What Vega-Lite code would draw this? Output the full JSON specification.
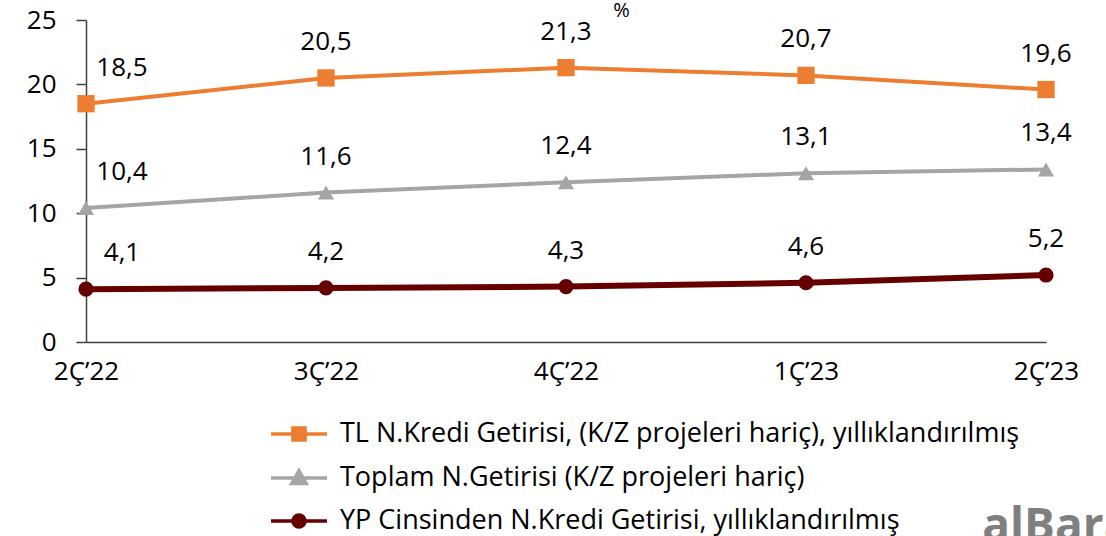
{
  "$schema": "https://vega.github.io/schema/vega-lite/v6.json",
  "width": 960,
  "height": 322,
  "autosize": "none",
  "padding": {"left": 86, "top": 20, "right": 60, "bottom": 194},
  "background": "white",
  "config": {
    "font": "Open Sans",
    "view": {"stroke": null},
    "locale": {"number": {"decimal": ",", "thousands": ".", "grouping": [3], "currency": ["", " TL"]}}
  },
  "title": {"text": "alBaraka", "orient": "bottom", "anchor": "start", "dx": 956, "offset": -29, "fontSize": 46, "color": "#7f7f7f", "fontWeight": "bold", "font": "Open Sans"},
  "data": {"values": [
    {"q": "2Ç’22", "series": "TL N.Kredi Getirisi, (K/Z projeleri hariç), yıllıklandırılmış", "v": 18.5},
    {"q": "3Ç’22", "series": "TL N.Kredi Getirisi, (K/Z projeleri hariç), yıllıklandırılmış", "v": 20.5},
    {"q": "4Ç’22", "series": "TL N.Kredi Getirisi, (K/Z projeleri hariç), yıllıklandırılmış", "v": 21.3},
    {"q": "1Ç’23", "series": "TL N.Kredi Getirisi, (K/Z projeleri hariç), yıllıklandırılmış", "v": 20.7},
    {"q": "2Ç’23", "series": "TL N.Kredi Getirisi, (K/Z projeleri hariç), yıllıklandırılmış", "v": 19.6},
    {"q": "2Ç’22", "series": "Toplam N.Getirisi (K/Z projeleri hariç)", "v": 10.4},
    {"q": "3Ç’22", "series": "Toplam N.Getirisi (K/Z projeleri hariç)", "v": 11.6},
    {"q": "4Ç’22", "series": "Toplam N.Getirisi (K/Z projeleri hariç)", "v": 12.4},
    {"q": "1Ç’23", "series": "Toplam N.Getirisi (K/Z projeleri hariç)", "v": 13.1},
    {"q": "2Ç’23", "series": "Toplam N.Getirisi (K/Z projeleri hariç)", "v": 13.4},
    {"q": "2Ç’22", "series": "YP Cinsinden N.Kredi Getirisi, yıllıklandırılmış", "v": 4.1},
    {"q": "3Ç’22", "series": "YP Cinsinden N.Kredi Getirisi, yıllıklandırılmış", "v": 4.2},
    {"q": "4Ç’22", "series": "YP Cinsinden N.Kredi Getirisi, yıllıklandırılmış", "v": 4.3},
    {"q": "1Ç’23", "series": "YP Cinsinden N.Kredi Getirisi, yıllıklandırılmış", "v": 4.6},
    {"q": "2Ç’23", "series": "YP Cinsinden N.Kredi Getirisi, yıllıklandırılmış", "v": 5.2}
  ]},
  "encoding": {
    "x": {"field": "q", "type": "ordinal", "sort": ["2Ç’22", "3Ç’22", "4Ç’22", "1Ç’23", "2Ç’23"],
      "scale": {"type": "point", "padding": 0},
      "axis": {"title": null, "labelAngle": 0, "labelFontSize": 26, "labelColor": "#000", "labelFont": "Open Sans", "ticks": false, "labelPadding": 16, "domainColor": "#404040", "domainWidth": 1.5, "grid": false}},
    "y": {"field": "v", "type": "quantitative",
      "scale": {"domain": [0, 25], "nice": false},
      "axis": {"values": [0, 5, 10, 15, 20, 25], "title": "%", "titleAngle": 0, "titleX": 535, "titleY": -10, "titleFontSize": 20, "titleFontWeight": "normal", "titleColor": "#000", "titleBaseline": "middle", "titleAlign": "center", "labelFontSize": 26, "labelColor": "#000", "labelFont": "Open Sans", "tickSize": 10, "tickColor": "#404040", "tickWidth": 1.5, "labelPadding": 20, "domainColor": "#404040", "domainWidth": 1.5, "grid": false}},
    "color": {"field": "series", "type": "nominal",
      "scale": {"domain": ["TL N.Kredi Getirisi, (K/Z projeleri hariç), yıllıklandırılmış", "Toplam N.Getirisi (K/Z projeleri hariç)", "YP Cinsinden N.Kredi Getirisi, yıllıklandırılmış"], "range": ["#ED7D31", "#A5A5A5", "#660000"]},
      "legend": {"title": null, "orient": "none", "legendX": 195, "legendY": 396, "direction": "vertical", "columns": 1,
        "padding": 0, "rowPadding": 12, "labelFontSize": 27, "labelFont": "Open Sans", "labelColor": "#000", "labelLimit": 0, "labelOffset": 23,
        "symbolSize": 1024,
        "encode": {"symbols": {"update": {
          "shape": {"signal": "datum.value == 'Toplam N.Getirisi (K/Z projeleri hariç)' ? 'M-1.75,0H1.75M0,-0.45L0.45,0.35H-0.45Z' : (datum.value == 'YP Cinsinden N.Kredi Getirisi, yıllıklandırılmış' ? 'M-1.75,0H1.75M-0.375,0A0.375,0.375 0 1,0 0.375,0A0.375,0.375 0 1,0 -0.375,0Z' : 'M-1.75,0H1.75M-0.38,-0.38H0.38V0.38H-0.38Z')"},
          "size": {"value": 1024},
          "strokeWidth": {"value": 3.5},
          "stroke": {"signal": "scale('color', datum.value)"},
          "fill": {"signal": "scale('color', datum.value)"},
          "opacity": {"value": 1}
        }}}}}
  },
  "layer": [
    {"mark": {"type": "line", "strokeWidth": 4}, "encoding": {}},
    {"transform": [{"filter": "datum.series == 'YP Cinsinden N.Kredi Getirisi, yıllıklandırılmış'"}],
      "mark": {"type": "line", "strokeWidth": 6}, "encoding": {}},
    {"transform": [{"filter": "datum.series == 'TL N.Kredi Getirisi, (K/Z projeleri hariç), yıllıklandırılmış'"}],
      "mark": {"type": "point", "filled": true, "opacity": 1, "shape": "square", "size": 300}},
    {"transform": [{"filter": "datum.series == 'Toplam N.Getirisi (K/Z projeleri hariç)'"}],
      "mark": {"type": "point", "filled": true, "opacity": 1, "shape": "triangle-up", "size": 260}},
    {"transform": [{"filter": "datum.series == 'YP Cinsinden N.Kredi Getirisi, yıllıklandırılmış'"}],
      "mark": {"type": "point", "filled": true, "opacity": 1, "shape": "circle", "size": 230}},
    {"transform": [{"filter": "datum.q == '2Ç’22'"}],
      "mark": {"type": "text", "dx": 36, "dy": -36, "fontSize": 26, "font": "Open Sans", "color": "#000"},
      "encoding": {"text": {"field": "v", "type": "quantitative", "format": ".1f"}, "color": {"value": "#000"}}},
    {"transform": [{"filter": "datum.q != '2Ç’22'"}],
      "mark": {"type": "text", "dy": -36, "fontSize": 26, "font": "Open Sans", "color": "#000"},
      "encoding": {"text": {"field": "v", "type": "quantitative", "format": ".1f"}, "color": {"value": "#000"}}}
  ]
}
